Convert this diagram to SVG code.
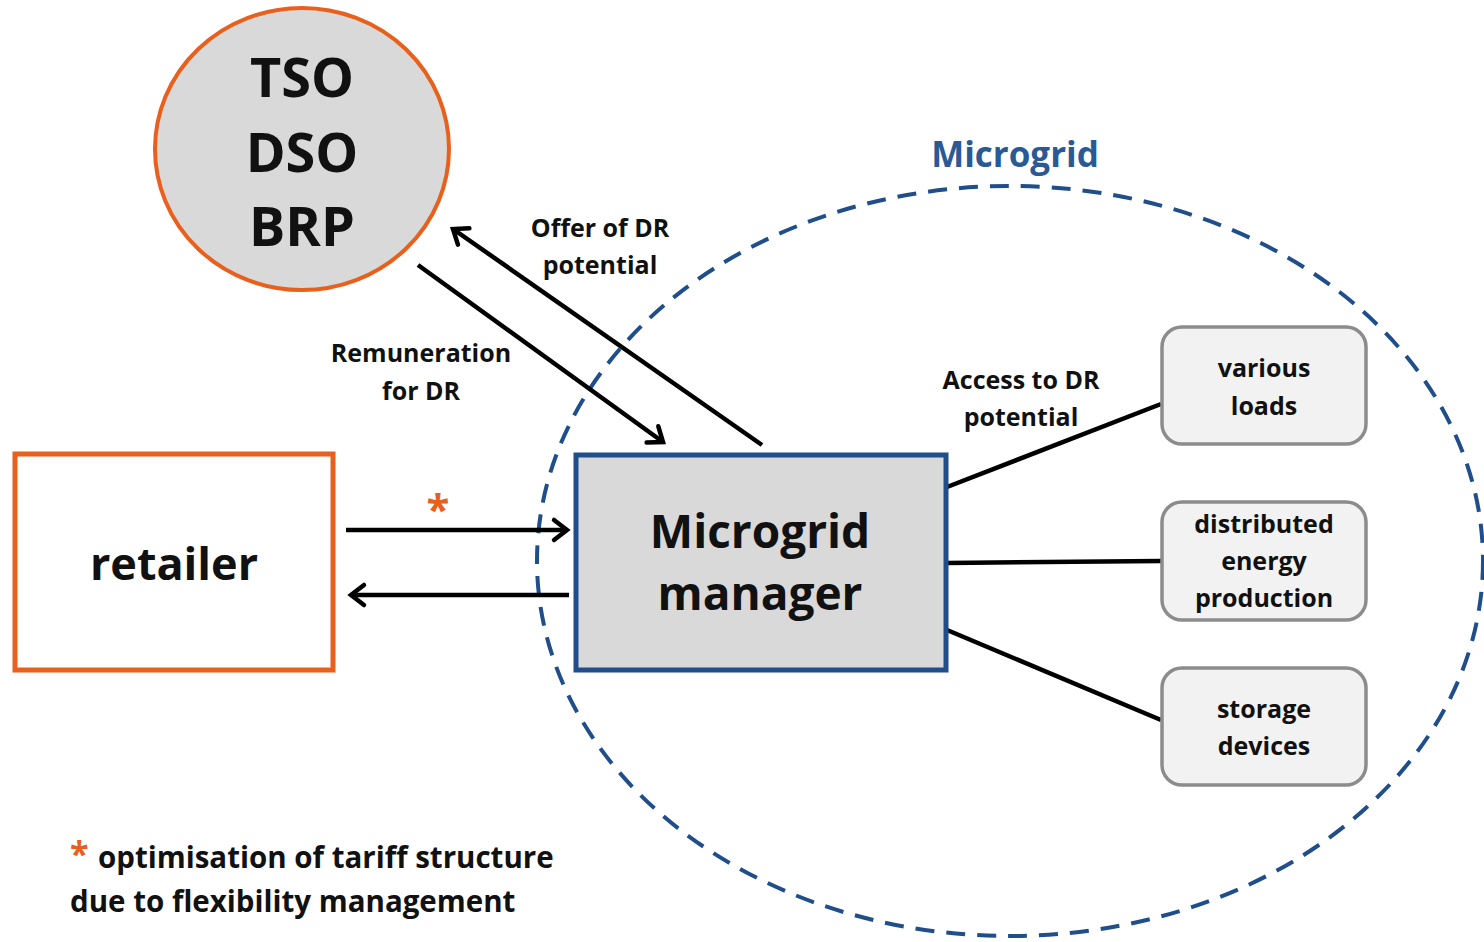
<svg xmlns="http://www.w3.org/2000/svg" width="1484" height="942" viewBox="0 0 1484 942">
<style>
text{font-family:"Open Sans","Liberation Sans",sans-serif;font-weight:700;fill:#111;text-anchor:middle}
.conn{stroke:#000;stroke-width:4.5;fill:none}
.arrow{marker-end:url(#arr)}
.dev{fill:#f2f2f2;stroke:#8c8c8c;stroke-width:3.5}
.lbl{font-size:25px}
.dev-t{font-size:25px}
.orange{fill:#e8601c}
.foot{font-size:29.5px;text-anchor:start}
</style>
<defs>
<marker id="arr" markerUnits="userSpaceOnUse" markerWidth="36" markerHeight="36" viewBox="-18 -18 36 36" refX="0" refY="0" orient="auto">
<path d="M-13,-10 L0,0 L-13,10" fill="none" stroke="#000" stroke-width="4.5" stroke-linecap="round" stroke-linejoin="miter"/>
</marker>
</defs>
<rect width="1484" height="942" fill="#fff"/>

<g id="microgrid-boundary">
<ellipse cx="1010" cy="561" rx="473" ry="375" fill="none" stroke="#1f4e8a" stroke-width="4" stroke-dasharray="19 12"/>
<text x="1015" y="167" style="font-size:35px;fill:#2a5a96">Microgrid</text>
</g>

<g id="connectors">
<line class="conn arrow" x1="762" y1="445" x2="453" y2="229"/>
<line class="conn arrow" x1="418" y1="265" x2="663" y2="442"/>
<line class="conn arrow" x1="346" y1="530" x2="567" y2="530"/>
<line class="conn arrow" x1="569" y1="595" x2="351" y2="595"/>
<line class="conn" x1="947" y1="487" x2="1161" y2="404"/>
<line class="conn" x1="947" y1="563" x2="1161" y2="561"/>
<line class="conn" x1="947" y1="630" x2="1161" y2="720"/>
<text class="lbl" x="600" y="237">Offer of DR</text>
<text class="lbl" x="600" y="274">potential</text>
<text class="lbl" x="421" y="362">Remuneration</text>
<text class="lbl" x="421" y="400">for DR</text>
<text class="orange" x="438" y="524" style="font-size:42px">*</text>
<text class="lbl" x="1021" y="389">Access to DR</text>
<text class="lbl" x="1021" y="426">potential</text>
</g>

<g id="tso-dso-brp">
<ellipse cx="302" cy="149" rx="147" ry="141" fill="#d9d9d9" stroke="#e8601c" stroke-width="4"/>
<text x="302" y="97" style="font-size:54px">TSO</text>
<text x="302" y="172" style="font-size:54px">DSO</text>
<text x="302" y="246" style="font-size:54px">BRP</text>
</g>

<g id="retailer">
<rect x="15" y="454" width="318" height="216" fill="#fff" stroke="#e8601c" stroke-width="5"/>
<text x="174" y="580" style="font-size:45px">retailer</text>
</g>

<g id="microgrid-manager">
<rect x="576" y="455" width="370" height="215" fill="#d9d9d9" stroke="#1f4e8a" stroke-width="5"/>
<text x="760" y="548" style="font-size:46px">Microgrid</text>
<text x="760" y="610" style="font-size:46px">manager</text>
</g>

<g id="various-loads">
<rect class="dev" x="1162" y="327" width="204" height="117" rx="20"/>
<text class="dev-t" x="1264" y="377">various</text>
<text class="dev-t" x="1264" y="415">loads</text>
</g>

<g id="distributed-energy-production">
<rect class="dev" x="1162" y="502" width="204" height="118" rx="20"/>
<text class="dev-t" x="1264" y="533">distributed</text>
<text class="dev-t" x="1264" y="570">energy</text>
<text class="dev-t" x="1264" y="607">production</text>
</g>

<g id="storage-devices">
<rect class="dev" x="1162" y="668" width="204" height="117" rx="20"/>
<text class="dev-t" x="1264" y="718">storage</text>
<text class="dev-t" x="1264" y="755">devices</text>
</g>

<g id="footnote">
<text class="orange foot" x="70" y="866" style="font-size:34px">*</text>
<text class="foot" x="98" y="868">optimisation of tariff structure</text>
<text class="foot" x="70" y="912">due to flexibility management</text>
</g>
</svg>
